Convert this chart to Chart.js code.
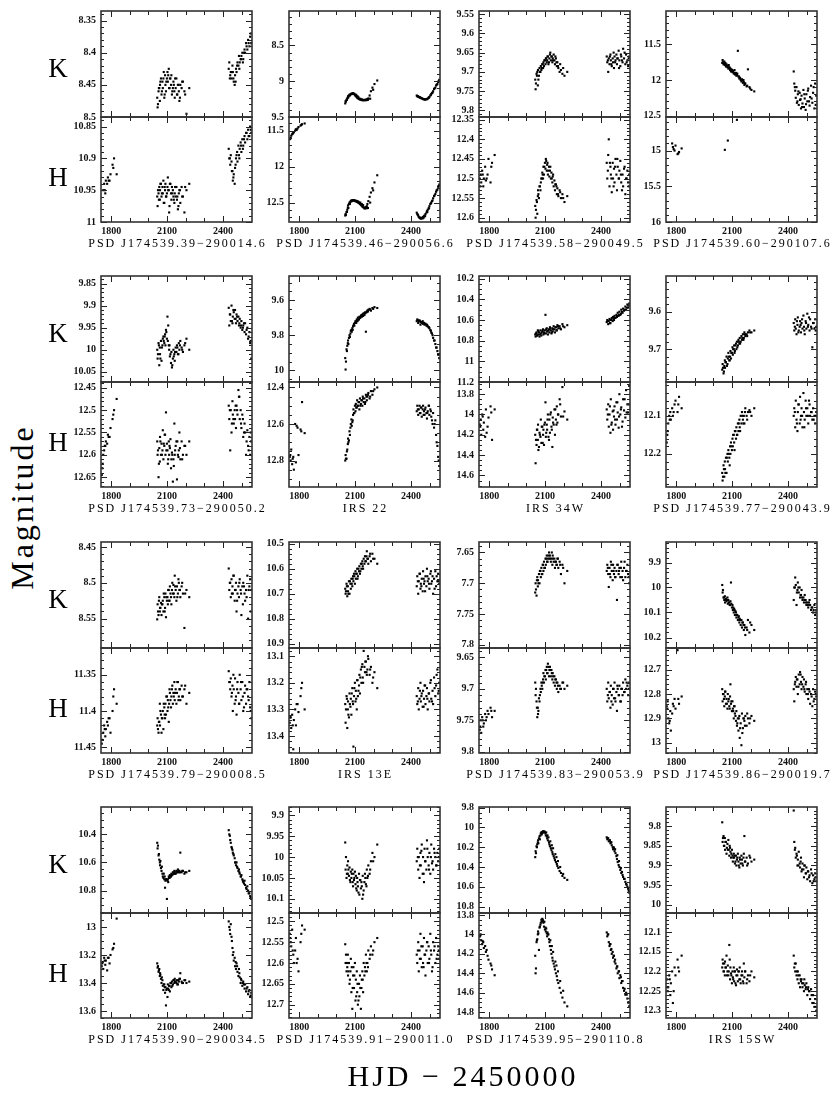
<!DOCTYPE html>
<html><head><meta charset="utf-8">
<script src="https://cdn.jsdelivr.net/npm/chart.js@4.4.1/dist/chart.umd.min.js"></script>
<style>
html,body{margin:0;padding:0;background:#fff;}
#page{position:relative;width:830px;height:1104px;overflow:hidden;background:#fff;}
#page canvas{position:absolute;}
.lbl{position:absolute;white-space:nowrap;color:#000;font-family:"Liberation Serif",serif;transform:translate(-50%,-50%);line-height:1;}
.name{font-size:12px;letter-spacing:2px;}
.band{font-size:27px;}
.ytitle{font-size:32px;letter-spacing:3px;transform:translate(-50%,-50%) rotate(-90deg);}
.xtitle{font-size:30px;letter-spacing:3px;}
</style></head>
<body><div id="page"></div>
<script>
// ---------------- DATA ----------------
const X_LABELS = [1800, 2100, 2400];
const NAMES = ["PSD J174539.39\u2212290014.6","PSD J174539.46\u2212290056.6","PSD J174539.58\u2212290049.5","PSD J174539.60\u2212290107.6",
"PSD J174539.73\u2212290050.2","IRS 22","IRS 34W","PSD J174539.77\u2212290043.9",
"PSD J174539.79\u2212290008.5","IRS 13E","PSD J174539.83\u2212290053.9","PSD J174539.86\u2212290019.7",
"PSD J174539.90\u2212290034.5","PSD J174539.91\u2212290011.0","PSD J174539.95\u2212290110.8","IRS 15SW"];

// observation epochs (HJD - 2450000), two observing passes
const EPOCH_K = [2047,2049,2054,2058,2061,2062,2067,2070,2075,2077,2080,2085,2089,2091,2094,2099,2102,2104,2109,2111,
2115,2121,2123,2126,2131,2134,2139,2141,2146,2150,2153,2158,2163,2166,2171,2178,2185,2193,2204,2219,
2431,2434,2439,2442,2446,2451,2453,2458,2463,2465,2470,2473,2478,2483,2486,2490,2495,2499,2504,2509,2516,2519,2524,2531,2535,2542,2546,2552];
const EPOCH_H = [1749,1754,1757,1762,1768,1771,1778,1782,1791,1796,1807,1815,1829,
2047,2049,2054,2058,2061,2062,2067,2070,2075,2077,2080,2085,2089,2091,2094,2099,2102,2104,2109,2111,
2115,2121,2123,2126,2131,2134,2139,2141,2146,2150,2153,2158,2163,2166,2171,2178,2185,2193,2204,2219,
2431,2434,2439,2442,2446,2451,2453,2458,2463,2465,2470,2473,2478,2483,2486,2490,2495,2499,2504,2509,2516,2519,2524,2531,2535,2542,2546,2552];
const EPOCH_K2 = [2051,2056,2064,2072,2082,2087,2096,2106,2113,2118,2128,2136,2143,2155,2161,2169,2181,2197,
2437,2448,2456,2468,2476,2488,2497,2507,2513,2527,2538,2549];
const EPOCH_H2 = [1752,1765,1786,1811,
2051,2056,2064,2072,2082,2087,2096,2106,2113,2118,2128,2136,2143,2155,2161,2169,2181,2197,
2437,2448,2456,2468,2476,2488,2497,2507,2513,2527,2538,2549];

const k01 = [8.47,8.485,8.46,8.455,8.475,8.45,8.44,8.465,8.445,8.455,8.44,8.47,8.435,8.45,8.46,8.44,8.43,8.445,8.425,8.455,
8.44,8.45,8.435,8.465,8.455,8.445,8.46,8.47,8.455,8.44,8.465,8.45,8.46,8.475,8.45,8.455,8.445,8.46,8.495,8.455,
8.425,8.415,8.435,8.43,8.44,8.42,8.43,8.445,8.45,8.435,8.425,8.43,8.415,8.42,8.405,8.415,8.41,8.405,8.40,8.41,8.395,8.40,8.385,8.395,8.38,8.39,8.375,8.385];
const h01 = [null,null,10.95,10.94,10.955,10.935,10.94,10.93,10.935,10.925,10.91,10.9,10.925,
10.96,10.975,10.955,10.945,10.965,10.95,10.94,10.96,10.945,10.955,10.935,10.97,10.95,10.94,10.96,10.955,10.945,10.93,10.95,10.985,
10.94,10.955,10.965,10.945,10.95,10.96,10.97,10.955,10.96,10.945,10.965,10.98,10.955,10.95,10.97,10.945,10.96,10.985,10.95,10.94,
10.885,10.9,10.91,10.895,10.905,10.92,10.935,10.925,10.94,10.915,10.9,10.895,10.905,10.88,10.895,10.885,10.875,10.89,10.87,10.88,10.865,10.875,10.86,10.87,10.855,10.865,10.85,10.86];
const k01b = [8.48,8.455,8.445,8.46,8.43,8.465,8.445,8.435,8.455,8.44,8.46,8.45,8.44,8.465,8.45,8.47,8.445,8.465,
8.44,8.43,8.44,8.445,8.42,8.425,8.41,8.415,8.4,8.39,8.385,8.37];
const h01b = [null,10.95,10.935,10.915,
10.95,10.965,10.94,10.955,10.97,10.945,10.96,10.95,10.975,10.94,10.955,10.965,10.945,10.96,10.975,10.95,10.96,10.945,
10.9,10.92,10.93,10.91,10.89,10.9,10.88,10.885,10.87,10.86,10.865,10.855];

const k02 = [9.31,9.28,9.26,9.24,9.23,9.21,9.2,9.19,9.185,9.18,9.175,9.17,9.17,9.175,9.18,9.19,9.2,9.21,9.22,9.23,
9.24,9.245,9.25,9.255,9.26,9.26,9.265,9.265,9.265,9.265,9.26,9.26,9.255,9.25,9.24,9.2,9.14,9.09,9.04,8.99,
9.2,9.21,9.215,9.22,9.225,9.23,9.235,9.24,9.245,9.25,9.25,9.255,9.255,9.25,9.25,9.24,9.23,9.22,9.2,9.18,9.16,9.14,9.11,9.09,9.06,9.04,9.01,8.98];
const h02 = [11.62,11.6,11.57,11.55,11.53,11.52,11.5,11.48,11.47,11.45,11.43,11.41,11.4,
12.68,12.66,12.63,12.6,12.57,12.54,12.52,12.5,12.49,12.48,12.47,12.47,12.465,12.47,12.47,12.475,12.48,12.48,12.49,12.49,
12.5,12.5,12.51,12.52,12.53,12.54,12.55,12.56,12.57,12.58,12.58,12.57,12.55,12.52,12.48,12.42,12.36,12.3,12.22,12.12,
12.64,12.66,12.68,12.7,12.71,12.72,12.72,12.71,12.72,12.7,12.69,12.68,12.66,12.64,12.62,12.6,12.58,12.55,12.52,12.5,12.47,12.44,12.41,12.38,12.35,12.32,12.28,12.25];
const k02b = [9.285,9.26,9.225,9.2,9.18,9.175,9.175,9.19,9.21,9.225,9.245,9.255,9.26,9.265,9.265,9.26,9.245,9.12,
9.21,9.225,9.235,9.25,9.255,9.25,9.23,9.19,9.165,9.1,9.05,9.0];
const h02b = [11.61,11.54,11.49,11.42,
12.67,12.63,12.575,12.52,12.48,12.47,12.465,12.475,12.48,12.49,12.5,12.52,12.535,12.565,12.58,12.575,12.5,12.33,
12.67,12.71,12.72,12.71,12.69,12.63,12.58,12.51,12.48,12.4,12.33,12.27];

const k03 = [9.72,9.745,9.705,9.7,9.735,9.695,9.71,9.69,9.7,9.685,9.695,9.68,9.69,9.675,9.685,9.67,9.68,9.665,9.675,9.67,
9.66,9.675,9.665,9.655,9.67,9.66,9.675,9.665,9.655,9.67,9.68,9.665,9.685,9.675,9.69,9.7,9.695,9.705,9.71,9.7,
9.66,9.675,9.7,9.665,9.68,9.655,9.67,9.685,9.665,9.675,9.69,9.66,9.67,9.655,9.68,9.665,9.645,9.67,9.685,9.66,9.675,9.64,9.665,9.68,9.655,9.67,9.685,9.66];
const h03 = [12.5,12.49,12.51,12.48,12.52,12.5,12.47,12.505,12.49,12.45,12.51,12.46,12.44,
12.57,12.6,12.555,12.59,12.545,12.53,12.55,12.52,12.53,12.51,12.5,12.485,12.5,12.47,12.49,12.46,12.475,12.45,12.48,12.465,
12.49,12.47,12.495,12.48,12.5,12.485,12.51,12.495,12.52,12.505,12.53,12.515,12.54,12.525,12.545,12.53,12.55,12.54,12.56,12.545,
12.46,12.5,12.44,12.4,12.52,12.47,12.49,12.535,12.46,12.5,12.475,12.51,12.45,12.49,12.53,12.47,12.5,12.48,12.455,12.51,12.49,12.52,12.475,12.54,12.5,12.48,12.51,12.49];
const k03b = [9.73,9.71,9.72,9.7,9.69,9.68,9.67,9.665,9.66,9.68,9.65,9.66,9.67,9.66,9.675,9.685,9.68,9.69,
9.67,9.66,9.68,9.65,9.675,9.665,9.69,9.655,9.67,9.65,9.675,9.665];
const h03b = [12.52,12.49,12.5,12.47,
12.58,12.56,12.54,12.52,12.5,12.49,12.47,12.455,12.46,12.48,12.47,12.5,12.49,12.515,12.52,12.54,12.535,12.55,
12.48,12.46,12.5,12.52,12.47,12.45,12.5,12.49,12.53,12.47,12.5,12.52];

const k04 = [11.76,11.72,11.78,11.74,11.79,11.77,11.81,11.78,11.82,11.8,11.84,11.82,11.86,11.84,11.88,11.86,11.89,11.87,11.91,11.9,
11.92,11.9,11.94,11.93,11.59,11.95,11.98,11.97,12.0,12.02,11.99,12.04,12.03,12.07,12.05,12.09,11.85,12.1,12.14,12.16,
11.88,12.05,12.15,12.25,12.1,12.3,12.2,12.35,12.18,12.28,12.4,12.22,12.33,12.14,12.38,12.26,12.42,12.2,12.3,12.12,12.36,12.24,12.08,12.32,12.18,12.4,12.05,12.22];
const h04 = [null,null,null,null,null,null,14.9,14.95,15.0,14.93,15.05,15.02,14.97,
null,null,null,null,14.99,null,null,null,null,14.86,null,null,null,null,null,null,null,null,null,null,
null,null,null,14.57,null,null,null,null,null,null,null,null,null,null,null,null,null,null,null,null,
null,null,null,null,null,null,null,null,null,null,null,null,null,null,null,null,null,null,null,null,null,null,null,null,null,null,null,null];
const k04b = [11.75,11.77,11.76,11.8,11.79,11.83,11.85,11.88,11.86,11.92,11.91,11.95,11.97,12.01,12.0,12.05,12.08,12.12,
12.1,12.32,12.16,12.27,12.38,12.2,12.34,12.15,12.3,12.26,12.1,12.35];
const h04b = [null,null,14.98,15.04,
null,null,null,null,null,null,null,null,null,null,null,null,null,null,null,null,null,null,
null,null,null,null,null,null,null,null,null,null,null,null];

const k05 = [10.0,10.02,9.985,10.035,9.995,10.01,9.98,10.025,9.99,9.975,9.97,9.985,9.965,9.99,9.955,9.975,9.925,9.98,9.99,10.0,
10.015,10.03,10.005,10.04,10.02,10.0,10.01,10.025,9.995,10.005,9.99,10.01,9.985,10.0,9.98,9.995,10.005,9.99,9.975,10.0,
9.905,9.945,9.92,9.935,9.9,9.94,9.925,9.915,9.93,9.91,9.94,9.92,9.935,9.925,9.945,9.93,9.95,9.935,9.955,9.945,9.96,9.94,9.965,9.95,9.975,9.96,9.985,10.02];
const h05 = [12.645,12.62,12.6,12.59,12.58,12.57,12.575,12.555,12.56,12.54,12.52,12.5,12.475,
12.57,12.6,12.65,12.585,12.615,12.56,12.6,12.575,12.59,12.545,12.61,12.58,12.555,12.6,12.505,12.575,12.59,12.62,12.57,12.6,
12.585,12.63,12.61,12.595,12.66,12.61,12.53,12.6,12.58,12.57,12.655,12.6,12.59,12.55,12.61,12.57,12.6,12.58,12.6,12.57,
12.49,12.52,12.59,12.5,12.55,12.48,12.51,12.53,12.5,12.52,12.54,12.49,12.51,12.455,12.47,12.52,12.5,12.54,12.51,12.56,12.53,12.55,12.6,12.545,12.58,12.56,12.6,12.57];
const k05b = [10.01,9.99,10.02,9.995,9.98,9.97,9.96,9.945,9.99,10.01,10.035,10.015,10.005,9.995,10.01,9.99,10.0,9.985,
9.92,9.935,9.91,9.93,9.925,9.94,9.945,9.95,9.94,9.955,9.97,9.98];
const h05b = [12.63,12.58,12.56,12.51,
12.59,12.62,12.57,12.6,12.575,12.555,12.59,12.61,12.58,12.565,12.6,12.625,12.59,12.57,12.605,12.585,12.61,12.58,
12.5,12.53,12.52,12.49,12.5,12.47,12.53,12.52,12.55,12.57,12.59,12.55];

const k06 = [9.93,9.995,9.88,9.86,9.845,9.83,9.815,9.8,9.79,9.775,9.77,9.76,9.75,9.745,9.735,9.73,9.72,9.725,9.71,9.715,
9.7,9.71,9.695,9.7,9.69,9.685,9.69,9.68,9.675,9.685,9.67,9.78,9.665,9.66,9.655,9.65,9.66,9.645,9.64,9.645,
9.72,9.71,9.73,9.72,9.715,9.74,9.725,9.73,9.72,9.735,9.73,9.74,9.735,9.745,9.74,9.75,9.755,9.76,9.77,9.785,9.8,9.815,9.83,9.85,9.87,9.89,9.91,9.93];
const h06 = [12.78,12.8,12.74,12.82,12.78,12.85,12.6,12.81,12.62,12.77,12.63,12.48,12.65,
12.8,12.77,12.79,12.74,12.71,12.68,12.69,12.64,12.62,12.6,12.575,12.59,12.55,12.52,12.54,12.5,12.53,12.49,12.51,12.47,
12.5,12.48,12.52,12.46,12.49,12.47,12.5,12.45,12.48,12.46,12.49,12.44,12.47,12.45,12.43,12.46,12.42,12.44,12.41,12.4,
12.53,12.5,12.55,12.52,12.5,12.54,12.51,12.56,12.52,12.5,12.53,12.55,12.51,12.54,12.57,12.53,12.5,12.55,12.52,12.56,12.6,12.54,12.62,12.58,12.66,12.72,12.78,12.83];
const k06b = [9.95,9.89,9.85,9.81,9.78,9.77,9.745,9.73,9.72,9.71,9.7,9.695,9.69,9.675,9.67,9.665,9.655,9.65,
9.715,9.72,9.725,9.73,9.735,9.745,9.755,9.775,9.79,9.83,9.87,9.91];
const h06b = [12.77,12.79,12.61,12.64,
12.79,12.75,12.7,12.66,12.61,12.58,12.54,12.51,12.5,12.48,12.5,12.47,12.46,12.48,12.45,12.44,12.45,12.42,
12.52,12.54,12.51,12.55,12.52,12.54,12.5,12.53,12.58,12.6,12.7,12.8];

const k07 = [10.74,10.76,10.72,10.75,10.7,10.74,10.72,10.76,10.7,10.73,10.75,10.71,10.69,10.74,10.72,10.7,10.55,10.73,10.68,10.71,
10.74,10.69,10.72,10.67,10.7,10.73,10.68,10.71,10.66,10.69,10.72,10.67,10.7,10.65,10.68,10.66,10.69,10.64,10.67,10.65,
10.62,10.6,10.64,10.61,10.59,10.63,10.6,10.58,10.61,10.57,10.6,10.56,10.58,10.55,10.57,10.53,10.56,10.52,10.55,10.5,10.53,10.49,10.51,10.47,10.5,10.45,10.48,10.44];
const h07 = [14.1,14.05,14.2,14.0,14.15,14.08,14.22,13.95,14.12,14.03,13.92,14.25,13.95,
14.2,14.48,14.3,14.15,14.25,14.1,14.32,14.18,14.22,14.05,14.28,14.12,14.2,14.15,14.3,14.08,13.88,14.22,14.1,14.15,
14.0,14.25,14.05,14.18,13.98,14.12,14.32,14.03,14.1,13.95,14.2,14.05,13.92,14.08,14.0,13.85,14.02,13.73,13.97,14.05,
13.95,14.05,13.9,14.12,14.0,14.18,13.85,14.08,13.97,14.15,14.02,13.92,14.1,13.88,14.05,13.98,14.13,13.8,14.0,13.93,14.07,13.85,13.96,14.03,13.76,13.9,13.98,13.72];
const k07b = [10.73,10.75,10.71,10.74,10.72,10.7,10.73,10.69,10.71,10.7,10.68,10.72,10.69,10.67,10.7,10.66,10.68,10.66,
10.61,10.63,10.6,10.59,10.58,10.56,10.55,10.54,10.52,10.5,10.48,10.46];
const h07b = [14.12,14.02,14.18,13.98,
14.25,14.15,14.35,14.2,14.12,14.28,14.1,14.18,14.05,14.22,14.0,14.15,14.08,13.95,14.1,14.0,13.9,14.02,
14.0,13.92,14.1,13.96,14.05,13.88,14.02,13.95,14.12,13.85,13.98,13.9];

const k08 = [9.755,9.74,9.765,9.745,9.73,9.75,9.735,9.72,9.74,9.725,9.71,9.73,9.72,9.705,9.725,9.71,9.695,9.715,9.7,9.69,
9.705,9.685,9.7,9.68,9.69,9.675,9.685,9.67,9.68,9.665,9.675,9.66,9.67,9.655,9.665,9.66,9.655,9.65,9.655,9.65,
9.63,9.65,9.62,9.645,9.66,9.635,9.615,9.65,9.64,9.625,9.655,9.63,9.645,9.61,9.64,9.66,9.625,9.645,9.605,9.635,9.65,9.62,9.64,9.695,9.63,9.645,9.62,9.64];
const h08 = [12.17,12.14,12.12,12.1,12.09,12.11,12.08,12.1,12.07,12.06,12.09,12.05,12.08,
12.25,12.27,12.23,12.26,12.22,12.24,12.21,12.25,12.2,12.22,12.19,12.21,12.18,12.2,12.17,12.19,12.16,12.18,12.15,12.17,
12.14,12.16,12.13,12.15,12.12,12.14,12.11,12.13,12.1,12.12,12.09,12.11,12.1,12.12,12.08,12.1,12.09,12.085,12.1,12.08,
12.1,12.08,12.13,12.06,12.11,12.14,12.09,12.07,12.12,12.05,12.1,12.08,12.13,12.04,12.09,12.11,12.06,12.1,12.08,12.12,12.07,12.1,12.09,12.11,12.08,12.1,12.12,12.09];
const k08b = [9.75,9.76,9.735,9.745,9.72,9.73,9.71,9.7,9.71,9.69,9.695,9.68,9.685,9.67,9.675,9.66,9.665,9.655,
9.64,9.625,9.655,9.635,9.62,9.65,9.63,9.64,9.615,9.645,9.63,9.65];
const h08b = [12.15,12.11,12.09,12.07,
12.26,12.24,12.25,12.21,12.2,12.23,12.18,12.15,12.19,12.14,12.15,12.12,12.14,12.1,12.12,12.09,12.11,12.09,
12.09,12.12,12.07,12.11,12.1,12.13,12.08,12.1,12.06,12.09,12.11,12.1];

const k09 = [8.551,8.53,8.545,8.52,8.54,8.535,8.528,8.545,8.53,8.525,8.54,8.52,8.535,8.515,8.548,8.525,8.52,8.53,8.51,8.525,
8.505,8.52,8.53,8.51,8.515,8.503,8.52,8.49,8.51,8.525,8.505,8.515,8.5,8.51,8.52,8.505,8.515,8.563,8.51,8.52,
8.48,8.51,8.5,8.52,8.495,8.505,8.515,8.49,8.525,8.51,8.5,8.54,8.515,8.505,8.52,8.495,8.51,8.545,8.505,8.5,8.515,8.525,8.51,8.49,8.55,8.505,8.495,8.51];
const h09 = [11.445,11.44,11.43,11.42,11.435,11.425,11.415,11.42,11.41,11.43,11.4,11.37,11.39,
11.42,11.41,11.43,11.415,11.39,11.42,11.405,11.43,11.41,11.4,11.425,11.395,11.41,11.39,11.405,11.38,11.4,11.385,11.415,11.39,
11.375,11.395,11.38,11.37,11.39,11.375,11.36,11.385,11.37,11.39,11.375,11.36,11.38,11.37,11.385,11.365,11.38,11.37,11.39,11.375,
11.345,11.36,11.37,11.355,11.38,11.365,11.4,11.37,11.39,11.355,11.38,11.405,11.36,11.375,11.39,11.35,11.37,11.385,11.36,11.4,11.375,11.365,11.39,11.37,11.38,11.36,11.395,11.41];
const k09b = [8.54,8.525,8.535,8.53,8.515,8.54,8.52,8.51,8.525,8.515,8.5,8.515,8.505,8.52,8.495,8.51,8.5,8.515,
8.5,8.515,8.49,8.51,8.525,8.5,8.515,8.53,8.505,8.52,8.51,8.54];
const h09b = [11.44,11.425,11.41,11.38,
11.425,11.415,11.4,11.41,11.39,11.405,11.38,11.395,11.37,11.385,11.365,11.38,11.375,11.36,11.385,11.37,11.38,11.365,
11.36,11.375,11.35,11.385,11.37,11.39,11.36,11.38,11.395,11.37,11.385,11.4];

const k10 = [10.68,10.7,10.66,10.71,10.67,10.69,10.65,10.7,10.66,10.68,10.64,10.67,10.63,10.65,10.62,10.66,10.61,10.64,10.62,10.6,
10.63,10.61,10.59,10.62,10.58,10.6,10.57,10.59,10.56,10.58,10.55,10.57,10.53,10.56,10.58,10.55,10.57,10.54,10.56,10.58,
10.67,10.63,10.7,10.65,10.62,10.68,10.66,10.64,10.69,10.61,10.66,10.65,10.63,10.67,10.6,10.65,10.64,10.68,10.62,10.66,10.63,10.7,10.64,10.61,10.67,10.65,10.62,10.66];
const h10 = [13.35,13.33,13.37,13.32,13.45,13.34,13.3,13.36,13.28,13.31,13.25,13.2,13.3,
13.28,13.35,13.25,13.37,13.3,13.27,13.33,13.24,13.29,13.26,13.32,13.22,13.28,13.44,13.25,13.2,13.27,13.23,13.3,13.19,
13.25,13.21,13.17,13.24,13.15,13.2,13.13,13.18,13.08,13.14,13.16,13.12,13.17,13.15,13.11,13.17,13.14,13.2,13.16,13.22,
13.25,13.28,13.22,13.3,13.26,13.2,13.27,13.24,13.29,13.23,13.26,13.21,13.28,13.25,13.22,13.3,13.24,13.27,13.2,13.26,13.23,13.28,13.18,13.25,13.21,13.15,13.24,13.2];
const k10b = [10.69,10.67,10.7,10.65,10.66,10.64,10.63,10.62,10.64,10.6,10.61,10.58,10.6,10.57,10.55,10.56,10.54,10.56,
10.65,10.62,10.67,10.64,10.69,10.63,10.66,10.61,10.65,10.68,10.63,10.65];
const h10b = [13.33,13.36,13.28,13.22,
13.3,13.26,13.32,13.28,13.24,13.27,13.22,13.26,13.19,13.23,13.18,13.14,13.2,13.12,13.16,13.1,13.15,13.18,
13.27,13.23,13.25,13.29,13.21,13.26,13.24,13.19,13.27,13.22,13.17,13.23];

const k11 = [7.715,7.7,7.72,7.69,7.705,7.695,7.685,7.7,7.68,7.69,7.675,7.685,7.67,7.68,7.665,7.675,7.66,7.67,7.655,7.665,
7.66,7.65,7.66,7.655,7.665,7.66,7.67,7.655,7.665,7.66,7.675,7.665,7.67,7.66,7.675,7.665,7.685,7.67,7.7,7.68,
7.68,7.67,7.685,7.706,7.675,7.69,7.665,7.68,7.695,7.67,7.685,7.675,7.69,7.68,7.727,7.67,7.685,7.675,7.69,7.665,7.68,7.695,7.675,7.69,7.68,7.67,7.685,7.7];
const h11 = [9.765,9.75,9.77,9.745,9.76,9.755,9.74,9.75,9.735,9.74,9.73,9.745,9.735,
9.69,9.71,9.72,9.745,9.73,9.74,9.715,9.72,9.7,9.705,9.69,9.7,9.685,9.675,9.69,9.68,9.67,9.685,9.665,9.675,
9.66,9.68,9.67,9.665,9.68,9.67,9.685,9.675,9.69,9.68,9.695,9.685,9.7,9.69,9.705,9.695,9.7,9.69,9.7,9.695,
9.7,9.72,9.69,9.715,9.705,9.73,9.695,9.71,9.725,9.7,9.715,9.69,9.72,9.705,9.735,9.7,9.71,9.695,9.72,9.7,9.71,9.69,9.705,9.685,9.7,9.695,9.71,9.69];
const k11b = [7.71,7.695,7.7,7.68,7.685,7.67,7.675,7.66,7.665,7.655,7.66,7.65,7.66,7.665,7.67,7.66,7.67,7.675,
7.675,7.685,7.67,7.68,7.69,7.67,7.68,7.675,7.69,7.665,7.68,7.69];
const h11b = [9.76,9.75,9.745,9.735,
9.7,9.73,9.735,9.71,9.695,9.69,9.68,9.67,9.675,9.665,9.67,9.675,9.68,9.685,9.69,9.695,9.7,9.69,
9.71,9.705,9.72,9.7,9.715,9.695,9.71,9.72,9.7,9.705,9.69,9.7];

const k12 = [9.99,10.02,10.04,10.05,10.035,10.06,10.045,10.055,10.04,10.065,10.05,10.06,10.07,10.055,9.98,10.08,10.07,10.09,10.1,10.085,
10.11,10.1,10.12,10.11,10.13,10.12,10.14,10.125,10.15,10.13,10.16,10.14,10.17,10.15,10.19,10.16,10.13,10.18,10.15,10.17,
10.05,10.0,9.96,9.99,10.07,10.01,9.98,10.02,10.0,10.04,10.03,10.01,10.05,10.04,10.06,10.03,10.05,10.07,10.06,10.08,10.05,10.07,10.09,10.08,10.1,10.07,10.11,10.09];
const h12 = [12.85,12.83,12.9,12.92,12.87,12.95,12.88,12.84,12.82,12.86,12.62,12.84,12.81,
12.78,12.83,12.8,12.85,12.81,12.79,12.84,12.82,12.86,12.8,12.83,12.85,12.81,12.76,12.84,12.87,12.83,12.86,12.9,12.85,
12.88,12.91,12.87,12.93,12.9,12.95,12.89,12.98,12.92,13.01,12.88,12.94,12.9,12.91,12.89,12.93,12.9,12.92,12.89,12.91,
12.78,12.83,12.75,12.73,12.77,12.74,12.8,12.72,12.76,12.71,12.75,12.78,12.73,12.77,12.74,12.79,12.76,12.8,12.78,12.82,12.79,12.84,12.8,12.85,12.78,12.82,12.79,12.81];
const k12b = [10.01,10.04,10.05,10.05,10.06,10.07,10.065,10.08,10.09,10.095,10.11,10.115,10.13,10.14,10.15,10.16,10.17,10.14,
10.0,10.02,10.0,10.03,10.04,10.05,10.06,10.07,10.06,10.08,10.09,10.1];
const h12b = [12.86,12.91,12.85,12.82,
12.8,12.82,12.79,12.84,12.82,12.86,12.83,12.87,12.85,12.89,12.92,12.9,12.94,12.96,12.9,12.93,12.88,12.9,
12.76,12.74,12.77,12.72,12.76,12.78,12.75,12.8,12.78,12.81,12.83,12.8];

const k13 = [10.46,10.5,10.55,10.58,10.6,10.62,10.64,10.66,10.68,10.7,10.71,10.72,10.78,10.73,10.72,10.86,10.73,10.72,10.7,10.71,
10.69,10.7,10.68,10.69,10.67,10.68,10.66,10.67,10.68,10.66,10.67,10.65,10.67,10.66,10.53,10.67,10.66,10.68,10.67,10.66,
10.37,10.4,10.44,10.46,10.49,10.51,10.53,10.55,10.57,10.6,10.62,10.6,10.64,10.66,10.65,10.68,10.7,10.69,10.72,10.74,10.73,10.76,10.78,10.77,10.8,10.82,10.84,10.86];
const h13 = [13.28,13.25,13.3,13.22,13.27,13.24,13.31,13.22,13.26,13.2,13.16,13.12,12.94,
13.26,13.29,13.32,13.3,13.35,13.33,13.37,13.4,13.38,13.42,13.45,13.41,13.47,13.43,13.56,13.44,13.5,13.41,13.45,13.42,
13.46,13.4,13.43,13.39,13.41,13.38,13.4,13.37,13.39,13.4,13.38,13.41,13.39,13.37,13.33,13.39,13.4,13.38,13.4,13.39,
12.96,13.0,13.05,12.98,13.07,13.15,13.2,13.24,13.22,13.28,13.3,13.26,13.32,13.35,13.3,13.36,13.4,13.38,13.42,13.39,13.44,13.41,13.46,13.43,13.48,13.45,13.5,13.47];
const k13b = [10.48,10.54,10.59,10.63,10.68,10.7,10.72,10.74,10.71,10.7,10.69,10.68,10.68,10.67,10.66,10.67,10.66,10.67,
10.41,10.5,10.54,10.6,10.63,10.67,10.7,10.73,10.75,10.79,10.82,10.85];
const h13b = [13.26,13.24,13.22,13.15,
13.28,13.31,13.34,13.36,13.41,13.43,13.45,13.44,13.42,13.4,13.42,13.38,13.39,13.41,13.38,13.37,13.4,13.38,
13.02,13.1,13.18,13.25,13.28,13.33,13.37,13.4,13.41,13.44,13.46,13.49];

const k14 = [9.965,10.03,10.05,10.02,10.04,10.01,10.045,10.025,10.06,10.035,10.05,10.03,10.07,10.04,10.055,10.035,10.065,10.045,10.08,10.05,
10.07,10.04,10.09,10.055,10.075,10.06,10.1,10.045,10.08,10.06,10.04,10.065,10.03,10.05,10.02,10.04,10.01,9.99,10.0,9.97,
10.01,9.98,10.03,10.0,10.05,9.99,10.02,9.97,10.04,10.0,10.06,9.98,10.01,10.03,9.96,10.0,10.02,9.99,10.04,9.97,10.01,10.03,9.98,10.0,10.02,9.99,10.01,9.98];
const h14 = [12.53,12.55,12.56,12.52,12.58,12.6,12.57,12.54,12.59,12.62,12.55,12.51,12.52,
12.555,12.6,12.62,12.61,12.58,12.63,12.6,12.65,12.62,12.59,12.67,12.71,12.63,12.61,12.66,12.6,12.69,12.64,12.62,12.67,
12.7,12.65,12.68,12.63,12.71,12.66,12.62,12.64,12.6,12.63,12.61,12.58,12.62,12.6,12.57,12.59,12.56,12.58,12.55,12.54,
12.58,12.6,12.55,12.62,12.57,12.53,12.59,12.61,12.56,12.6,12.54,12.58,12.63,12.57,12.55,12.6,12.56,12.59,12.53,12.58,12.61,12.55,12.57,12.6,12.54,12.58,12.56,12.59];
const k14b = [10.0,10.04,10.03,10.055,10.04,10.06,10.05,10.075,10.06,10.085,10.055,10.07,10.09,10.05,10.07,10.045,10.03,10.01,
10.0,10.02,9.985,10.04,10.01,9.98,10.03,10.0,10.015,9.99,10.02,10.0];
const h14b = [12.54,12.57,12.6,12.53,
12.58,12.6,12.62,12.64,12.61,12.66,12.63,12.68,12.65,12.69,12.66,12.64,12.67,12.62,12.6,12.61,12.58,12.57,
12.57,12.59,12.56,12.61,12.58,12.55,12.6,12.57,12.62,12.56,12.59,12.57];

const k15 = [10.3,10.24,10.19,10.17,10.15,10.13,10.11,10.09,10.08,10.06,10.05,10.045,10.04,10.04,10.045,10.05,10.06,10.08,10.09,10.11,
10.13,10.15,10.17,10.19,10.21,10.23,10.25,10.27,10.29,10.31,10.33,10.35,10.37,10.39,10.41,10.44,10.46,10.49,10.51,10.53,
10.1,10.12,10.11,10.14,10.13,10.16,10.15,10.18,10.2,10.22,10.21,10.24,10.26,10.29,10.32,10.35,10.38,10.4,10.43,10.46,10.48,10.5,10.52,10.55,10.57,10.6,10.62,10.66];
const h15 = [14.02,14.0,14.06,14.1,14.08,14.14,14.12,14.18,14.22,14.26,14.3,14.36,14.42,
14.22,14.4,14.08,14.05,14.0,13.97,14.16,13.93,13.9,13.88,13.85,13.84,13.86,13.88,13.92,13.95,13.93,13.97,13.99,14.02,
14.0,14.05,14.08,14.12,14.16,14.2,14.24,14.27,14.3,14.33,14.36,14.4,14.43,14.47,14.5,14.55,14.6,14.65,14.7,14.74,
13.98,14.02,14.0,14.08,14.12,14.1,14.16,14.2,14.18,14.24,14.22,14.28,14.3,14.35,14.33,14.4,14.38,14.45,14.42,14.5,14.48,14.55,14.58,14.62,14.6,14.66,14.7,14.74];
const k15b = [10.26,10.2,10.16,10.12,10.07,10.055,10.04,10.05,10.08,10.1,10.14,10.18,10.21,10.27,10.3,10.34,10.4,10.47,
10.11,10.13,10.15,10.2,10.22,10.28,10.34,10.41,10.45,10.52,10.58,10.64];
const h15b = [14.01,14.07,14.16,14.32,
14.35,14.06,13.99,13.92,13.87,13.85,13.87,13.94,13.98,14.0,14.06,14.12,14.18,14.28,14.32,14.38,14.48,14.58,
14.0,14.1,14.15,14.22,14.26,14.33,14.38,14.44,14.48,14.56,14.62,14.7];

const k16 = [9.79,9.84,9.825,9.85,9.83,9.86,9.84,9.87,9.845,9.86,9.835,9.875,9.855,9.865,9.88,9.86,9.875,9.89,9.87,9.88,
9.895,9.875,9.9,9.885,9.87,9.89,9.905,9.88,9.895,9.875,9.885,9.9,9.87,9.825,9.89,9.88,9.895,9.875,9.89,9.885,
9.76,9.84,9.855,9.88,9.87,9.9,9.885,9.865,9.895,9.905,9.88,9.915,9.895,9.91,9.93,9.9,9.92,9.905,9.935,9.915,9.925,9.94,9.91,9.945,9.925,9.935,9.92,9.94];
const h16 = [12.22,12.25,12.24,12.21,12.26,12.23,12.2,12.28,12.19,12.21,12.17,12.2,12.16,
12.19,12.17,12.2,12.18,12.21,12.175,12.19,12.16,12.2,12.185,12.21,12.133,12.22,12.19,12.205,12.23,12.2,12.215,12.19,12.225,
12.2,12.235,12.21,12.195,12.225,12.2,12.22,12.19,12.23,12.21,12.2,12.225,12.18,12.215,12.2,12.23,12.21,12.225,12.2,12.215,
12.16,12.19,12.2,12.18,12.21,12.22,12.2,12.23,12.21,12.24,12.225,12.22,12.24,12.23,12.25,12.235,12.245,12.23,12.26,12.24,12.25,12.27,12.245,12.28,12.26,12.29,12.27,12.3];
const k16b = [9.83,9.85,9.84,9.855,9.86,9.85,9.87,9.88,9.875,9.89,9.88,9.9,9.885,9.895,9.88,9.89,9.9,9.88,
9.86,9.875,9.9,9.89,9.91,9.9,9.92,9.915,9.93,9.92,9.94,9.93];
const h16b = [12.24,12.22,12.25,12.19,
12.18,12.2,12.19,12.21,12.2,12.17,12.21,12.22,12.2,12.23,12.21,12.2,12.22,12.21,12.23,12.2,12.22,12.21,
12.18,12.2,12.21,12.22,12.23,12.22,12.24,12.245,12.25,12.26,12.28,12.29];

// axis ranges (magnitudes, bright at top) and labelled ticks
const K_RANGE = [[8.335,8.5],[8.02,9.5],[9.542,9.817],[11.03,12.52],[9.833,10.073],[9.463,10.066],[10.174,11.2],[9.504,9.788],
[8.443,8.591],[10.493,10.917],[7.633,7.805],[9.818,10.242],[10.205,10.96],[9.88,10.134],[9.793,10.865],[9.751,10.021]];
const H_RANGE = [[10.835,11.0],[11.31,12.77],[12.343,12.611],[14.53,16.0],[12.437,12.672],[12.37,12.945],[13.68,14.714],[12.011,12.287],
[11.313,11.458],[13.069,13.464],[9.635,9.802],[12.611,13.042],[12.9,13.65],[12.48,12.732],[13.78,14.86],[12.052,12.318]];
const K_TICKS = [[8.35,8.4,8.45,8.5],[8.5,9,9.5],[9.55,9.6,9.65,9.7,9.75,9.8],[11.5,12,12.5],[9.85,9.9,9.95,10,10.05],[9.6,9.8,10],
[10.2,10.4,10.6,10.8,11,11.2],[9.6,9.7],[8.45,8.5,8.55],[10.5,10.6,10.7,10.8,10.9],[7.65,7.7,7.75,7.8],[9.9,10,10.1,10.2],
[10.4,10.6,10.8],[9.9,9.95,10,10.05,10.1],[9.8,10,10.2,10.4,10.6,10.8],[9.8,9.85,9.9,9.95,10]];
const H_TICKS = [[10.85,10.9,10.95,11],[11.5,12,12.5],[12.35,12.4,12.45,12.5,12.55,12.6],[15,15.5,16],[12.45,12.5,12.55,12.6,12.65],[12.4,12.6,12.8],
[13.8,14,14.2,14.4,14.6],[12.1,12.2],[11.35,11.4,11.45],[13.1,13.2,13.3,13.4],[9.65,9.7,9.75,9.8],[12.7,12.8,12.9,13],
[13,13.2,13.4,13.6],[12.5,12.55,12.6,12.65,12.7],[13.8,14,14.2,14.4,14.6,14.8],[12.1,12.15,12.2,12.25,12.3]];
const K_MINOR = [0.01,0.1,0.01,0.1,0.01,0.05,0.05,0.02,0.01,0.02,0.01,0.02,0.05,0.01,0.05,0.01];
const H_MINOR = [0.01,0.1,0.01,0.1,0.01,0.05,0.05,0.02,0.01,0.02,0.01,0.02,0.05,0.01,0.05,0.01];

const K_MAGS = [k01,k02,k03,k04,k05,k06,k07,k08,k09,k10,k11,k12,k13,k14,k15,k16];
const H_MAGS = [h01,h02,h03,h04,h05,h06,h07,h08,h09,h10,h11,h12,h13,h14,h15,h16];
const K_MAGS2 = [k01b,k02b,k03b,k04b,k05b,k06b,k07b,k08b,k09b,k10b,k11b,k12b,k13b,k14b,k15b,k16b];
const H_MAGS2 = [h01b,h02b,h03b,h04b,h05b,h06b,h07b,h08b,h09b,h10b,h11b,h12b,h13b,h14b,h15b,h16b];

// ---------------- LAYOUT ----------------
const X_MIN = 1745, X_MAX = 2556;
const COL_LEFT = [101, 289, 479, 666];
const ROW_TOP = [11, 276, 542, 807];
const PW = 151, KH = 106, HH = 105;
const page = document.getElementById('page');

const frameTicks = {
  id: 'frameTicks',
  afterDatasetsDraw(chart, args, opts) {
    const ctx = chart.ctx, a = chart.chartArea, x = chart.scales.x, y = chart.scales.y;
    ctx.save();
    ctx.strokeStyle = '#222';
    ctx.lineWidth = 1;
    ctx.beginPath();
    const lo = Math.min(y.min, y.max), hi = Math.max(y.min, y.max);
    const m = opts.minor;
    for (let k = Math.ceil(lo / m - 1e-6); k * m <= hi + 1e-9; k++) {
      const v = k * m;
      const major = opts.majors.some(t => Math.abs(t - v) < m / 10);
      const L = major ? 6 : 3;
      const py = Math.round(y.getPixelForValue(v)) + 0.5;
      ctx.moveTo(a.left, py); ctx.lineTo(a.left + L, py);
      ctx.moveTo(a.right, py); ctx.lineTo(a.right - L, py);
    }
    for (let v = 1800; v <= 2500; v += 100) {
      const L = X_LABELS.includes(v) ? 6 : 4;
      const px = Math.round(x.getPixelForValue(v)) + 0.5;
      ctx.moveTo(px, a.top); ctx.lineTo(px, a.top + L);
      ctx.moveTo(px, a.bottom); ctx.lineTo(px, a.bottom - L);
    }
    ctx.stroke();
    ctx.strokeStyle = '#333';
    ctx.lineWidth = 1.6;
    ctx.strokeRect(a.left, a.top, a.right - a.left, a.bottom - a.top);
    ctx.restore();
  }
};

const fmt = v => String(+(+v).toFixed(3));
const tickFont = {family: 'Liberation Serif', size: 10, weight: 'bold'};

function toPoints(epochs, mags, out) {
  for (let i = 0; i < epochs.length && i < mags.length; i++) {
    if (mags[i] !== null && mags[i] !== undefined) out.push({x: epochs[i], y: mags[i]});
  }
  return out;
}

function makePanel(x0, y0, h, sets, range, majors, minor, showX) {
  const LW = 44, PT = 12, PR = 4, PB = 12, XH = 16;
  const cv = document.createElement('canvas');
  const cw = LW + PW + PR, ch = PT + h + (showX ? XH : PB);
  cv.width = cw; cv.height = ch;
  cv.style.left = (x0 - LW) + 'px'; cv.style.top = (y0 - PT) + 'px';
  cv.style.width = cw + 'px'; cv.style.height = ch + 'px';
  page.appendChild(cv);
  const pts = [];
  sets.forEach(s => toPoints(s[0], s[1], pts));
  new Chart(cv, {
    type: 'scatter',
    data: {datasets: [{data: pts, pointStyle: 'rect', pointRadius: 1.5, pointHoverRadius: 1.5,
      pointBackgroundColor: '#000', pointBorderColor: '#000', pointBorderWidth: 0, showLine: false}]},
    options: {
      responsive: false, animation: false, devicePixelRatio: 1, events: [],
      layout: {padding: {left: 0, top: PT, right: PR, bottom: showX ? 0 : PB}},
      plugins: {legend: {display: false}, tooltip: {enabled: false},
        frameTicks: {majors: majors, minor: minor}},
      scales: {
        x: {type: 'linear', min: X_MIN, max: X_MAX, display: showX,
          grid: {display: false, drawTicks: false}, border: {display: false},
          afterBuildTicks: s => { s.ticks = X_LABELS.map(v => ({value: v})); },
          afterFit: s => { s.height = showX ? XH : 0; },
          ticks: {autoSkip: false, maxRotation: 0, padding: 3, font: tickFont, color: '#111', callback: v => String(v)}},
        y: {type: 'linear', reverse: true, min: range[0], max: range[1],
          grid: {display: false, drawTicks: false}, border: {display: false},
          afterBuildTicks: s => { s.ticks = majors.map(v => ({value: v})); },
          afterFit: s => { s.width = LW; s.paddingTop = 0; s.paddingBottom = 0; },
          ticks: {autoSkip: false, padding: 5, font: tickFont, color: '#111', callback: v => fmt(v)}}
      }
    },
    plugins: [frameTicks]
  });
}

function addLabel(text, cls, x, y) {
  const d = document.createElement('div');
  d.className = 'lbl ' + cls;
  d.textContent = text;
  d.style.left = x + 'px';
  d.style.top = y + 'px';
  page.appendChild(d);
}

for (let i = 0; i < 16; i++) {
  const r = Math.floor(i / 4), c = i % 4;
  const left = COL_LEFT[c], top = ROW_TOP[r];
  makePanel(left, top, KH, [[EPOCH_K, K_MAGS[i]], [EPOCH_K2, K_MAGS2[i]]], K_RANGE[i], K_TICKS[i], K_MINOR[i], false);
  makePanel(left, top + KH, HH, [[EPOCH_H, H_MAGS[i]], [EPOCH_H2, H_MAGS2[i]]], H_RANGE[i], H_TICKS[i], H_MINOR[i], true);
  addLabel(NAMES[i], 'name', left + PW / 2 + 1, top + KH + HH + 21);
}
for (let r = 0; r < 4; r++) {
  addLabel('K', 'band', 58, ROW_TOP[r] + 57);
  addLabel('H', 'band', 58, ROW_TOP[r] + 166);
}
addLabel('Magnitude', 'ytitle', 22, 507);
addLabel('HJD \u2212 2450000', 'xtitle', 463, 1076);
</script>
</body></html>
